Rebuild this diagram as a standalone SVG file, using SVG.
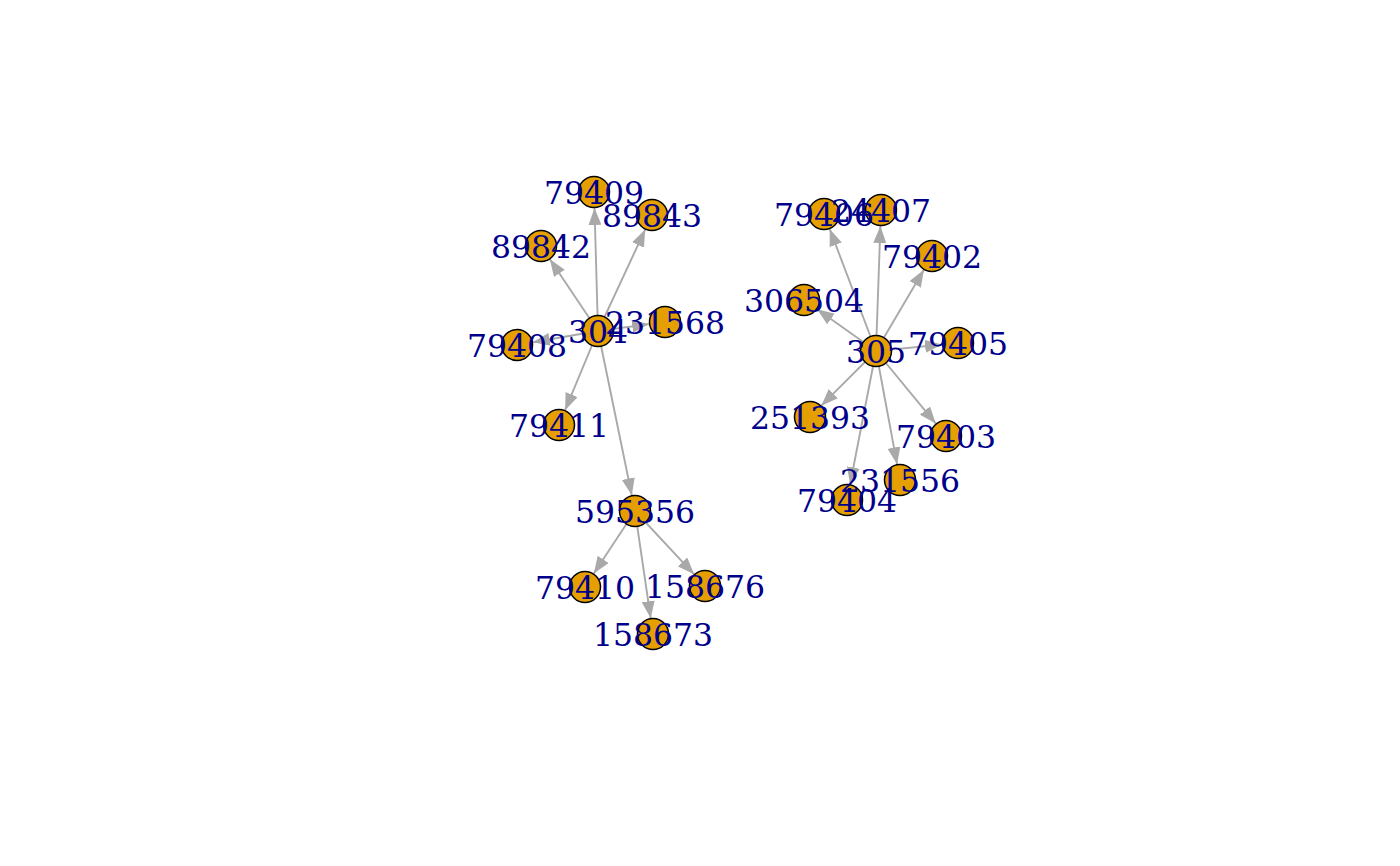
<svg xmlns="http://www.w3.org/2000/svg" width="1400" height="866" viewBox="0 0 1400 866">
<style>
.e{stroke:#A9A9A9;stroke-width:1.9;fill:none;marker-end:url(#ah)}
.n circle{fill:#E69F00;stroke:#000;stroke-width:1.5}
.n text{font-family:"DejaVu Serif",serif;font-size:31.5px;fill:#00008B;text-anchor:middle}
</style>
<defs>
<marker id="ah" markerUnits="userSpaceOnUse" viewBox="0 0 17 13" refX="17" refY="6.5" markerWidth="17" markerHeight="13" orient="auto">
<path d="M0,0 L17,6.5 L0,13 z" fill="#A9A9A9"/>
</marker>
</defs>
<rect width="1400" height="866" fill="#fff"/>
<g id="edges">
<line class="e" x1="598" y1="331" x2="594.5" y2="208"/>
<line class="e" x1="598" y1="331" x2="645.2" y2="229.5"/>
<line class="e" x1="598" y1="331" x2="549.9" y2="259.3"/>
<line class="e" x1="598" y1="331" x2="532.8" y2="342.3"/>
<line class="e" x1="598" y1="331" x2="649.1" y2="324.1"/>
<line class="e" x1="598" y1="331" x2="565.1" y2="410.2"/>
<line class="e" x1="598" y1="331" x2="631.8" y2="495.3"/>
<line class="e" x1="635" y1="511" x2="593.8" y2="573.6"/>
<line class="e" x1="635" y1="511" x2="650.7" y2="618.2"/>
<line class="e" x1="635" y1="511" x2="694.1" y2="574.3"/>
<line class="e" x1="876" y1="351" x2="829.7" y2="229"/>
<line class="e" x1="876" y1="351" x2="880.4" y2="226"/>
<line class="e" x1="876" y1="351" x2="923.9" y2="269.8"/>
<line class="e" x1="876" y1="351" x2="817.1" y2="309.2"/>
<line class="e" x1="876" y1="351" x2="942.1" y2="344.6"/>
<line class="e" x1="876" y1="351" x2="821.3" y2="405.7"/>
<line class="e" x1="876" y1="351" x2="935.8" y2="423.6"/>
<line class="e" x1="876" y1="351" x2="897.1" y2="464.3"/>
<line class="e" x1="876" y1="351" x2="850.1" y2="484.3"/>
</g>
<g id="circles" class="n">
<circle id="c304" cx="598" cy="331" r="15.5"/>
<circle id="c79409" cx="594" cy="192" r="15.5"/>
<circle id="c89843" cx="652" cy="215" r="15.5"/>
<circle id="c89842" cx="541" cy="246" r="15.5"/>
<circle id="c79408" cx="517" cy="345" r="15.5"/>
<circle id="c231568" cx="665" cy="322" r="15.5"/>
<circle id="c79411" cx="559" cy="425" r="15.5"/>
<circle id="c595356" cx="635" cy="511" r="15.5"/>
<circle id="c79410" cx="585" cy="587" r="15.5"/>
<circle id="c158673" cx="653" cy="634" r="15.5"/>
<circle id="c158676" cx="705" cy="586" r="15.5"/>
<circle id="c305" cx="876" cy="351" r="15.5"/>
<circle id="c79406" cx="824" cy="214" r="15.5"/>
<circle id="c24407" cx="881" cy="210" r="15.5"/>
<circle id="c79402" cx="932" cy="256" r="15.5"/>
<circle id="c306504" cx="804" cy="300" r="15.5"/>
<circle id="c79405" cx="958" cy="343" r="15.5"/>
<circle id="c251393" cx="810" cy="417" r="15.5"/>
<circle id="c79403" cx="946" cy="436" r="15.5"/>
<circle id="c231556" cx="900" cy="480" r="15.5"/>
<circle id="c79404" cx="847" cy="500" r="15.5"/>
</g>
<g id="labels" class="n">
<g id="n304"><text x="598" y="342.5">304</text></g>
<g id="n79409"><text x="594" y="203.5">79409</text></g>
<g id="n89843"><text x="652" y="226.5">89843</text></g>
<g id="n89842"><text x="541" y="257.5">89842</text></g>
<g id="n79408"><text x="517" y="356.5">79408</text></g>
<g id="n231568"><text x="665" y="333.5">231568</text></g>
<g id="n79411"><text x="559" y="436.5">79411</text></g>
<g id="n595356"><text x="635" y="522.5">595356</text></g>
<g id="n79410"><text x="585" y="598.5">79410</text></g>
<g id="n158673"><text x="653" y="645.5">158673</text></g>
<g id="n158676"><text x="705" y="597.5">158676</text></g>
<g id="n305"><text x="876" y="362.5">305</text></g>
<g id="n79406"><text x="824" y="225.5">79406</text></g>
<g id="n24407"><text x="881" y="221.5">24407</text></g>
<g id="n79402"><text x="932" y="267.5">79402</text></g>
<g id="n306504"><text x="804" y="311.5">306504</text></g>
<g id="n79405"><text x="958" y="354.5">79405</text></g>
<g id="n251393"><text x="810" y="428.5">251393</text></g>
<g id="n79403"><text x="946" y="447.5">79403</text></g>
<g id="n231556"><text x="900" y="491.5">231556</text></g>
<g id="n79404"><text x="847" y="511.5">79404</text></g>
</g>
</svg>
